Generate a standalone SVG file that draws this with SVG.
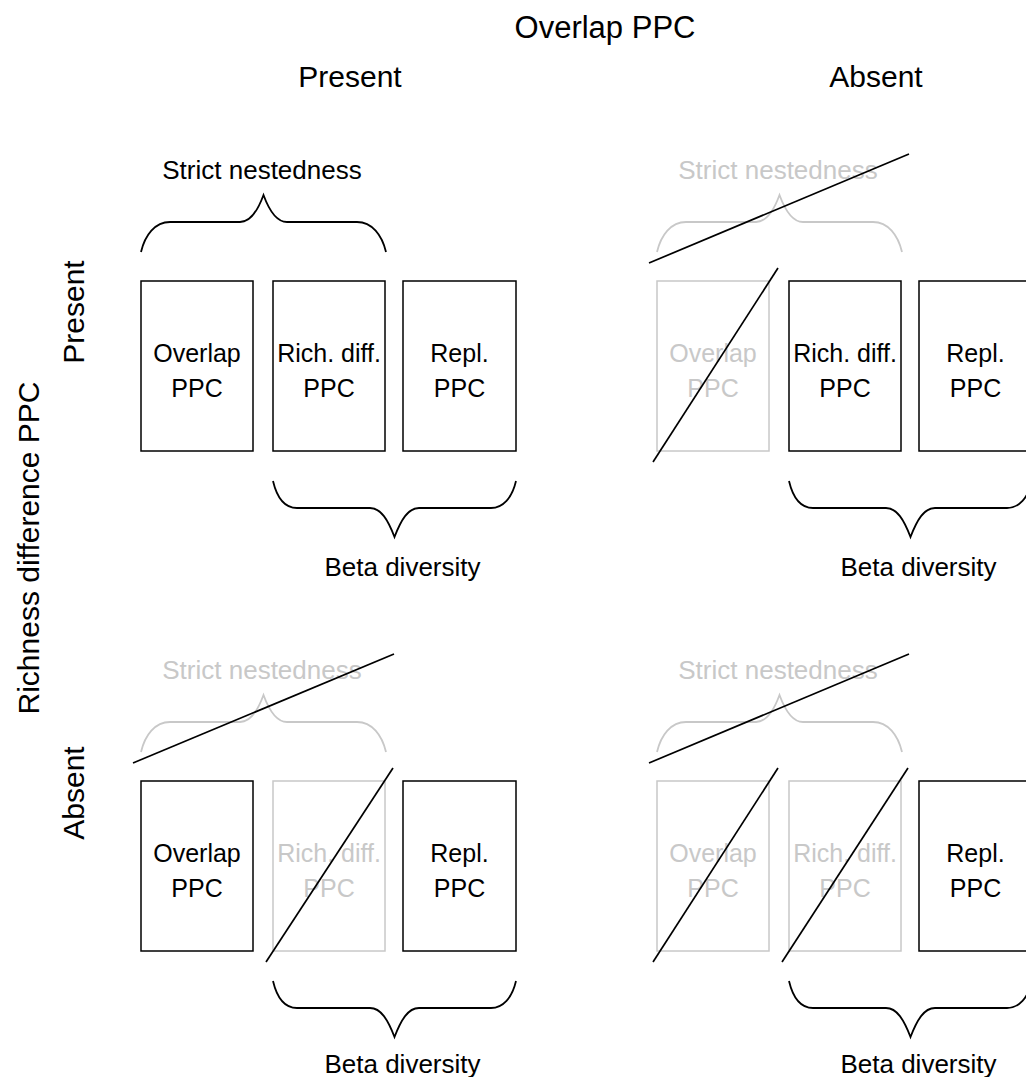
<svg xmlns="http://www.w3.org/2000/svg" width="1026" height="1077" viewBox="0 0 1026 1077">
  <style>
    text { font-family: "Liberation Sans", Arial, sans-serif; fill: #000; }
    .head { font-size: 30px; text-anchor: middle; }
    .title { font-size: 31px; text-anchor: middle; }
    .lbl { font-size: 25px; text-anchor: middle; }
    .brlbl { font-size: 26px; text-anchor: middle; }
    .box { fill: #fff; stroke: #000; stroke-width: 1.5; }
    .brace { fill: none; stroke: #000; stroke-width: 1.8; }
    .off .box, .off .brace { stroke: #c8c8c8; }
    .off text { fill: #c8c8c8; }
    .strike { stroke: #000; stroke-width: 1.7; fill: none; }
  </style>
  <defs>
    <!-- brace spanning the first two boxes, tip pointing up -->
    <path id="brace-up" d="M141,252 C145,235 155,222 170,222 L240,222 C251,222 258,210 263.5,195 C269,210 276,222 287,222 L357,222 C372,222 382,235 386,252"/>
    <!-- brace spanning the last two boxes, tip pointing down -->
    <path id="brace-down" d="M273,481 C277,498 285,508 297,508 L370,508 C381,508 388,520 394.5,537 C401,520 408,508 419,508 L491,508 C503,508 512,498 516,481"/>
  </defs>

  <rect width="1026" height="1077" fill="#fff"/>

  <!-- axis headings -->
  <g id="headings">
    <text class="title" x="605" y="38">Overlap PPC</text>
    <text class="head" x="350" y="87">Present</text>
    <text class="head" x="876" y="87">Absent</text>
    <text class="head" transform="translate(39,548) rotate(-90)">Richness difference PPC</text>
    <text class="head" transform="translate(84,312) rotate(-90)">Present</text>
    <text class="head" transform="translate(84,793) rotate(-90)">Absent</text>
  </g>

  <!-- quadrant: overlap present, richness difference present -->
  <g id="q-present-present">
    <g id="nest-pp"><use href="#brace-up" class="brace"/><text class="brlbl" x="262" y="179">Strict nestedness</text></g>
    <g id="overlap-pp"><rect class="box" x="141" y="281" width="112" height="170"/><text class="lbl" x="197" y="362">Overlap</text><text class="lbl" x="197" y="397">PPC</text></g>
    <g id="richdiff-pp"><rect class="box" x="273" y="281" width="112" height="170"/><text class="lbl" x="329" y="362">Rich. diff.</text><text class="lbl" x="329" y="397">PPC</text></g>
    <g id="repl-pp"><rect class="box" x="403" y="281" width="113" height="170"/><text class="lbl" x="459.5" y="362">Repl.</text><text class="lbl" x="459.5" y="397">PPC</text></g>
    <g id="beta-pp"><use href="#brace-down" class="brace"/><text class="brlbl" x="402.5" y="576">Beta diversity</text></g>
  </g>

  <!-- quadrant: overlap absent, richness difference present -->
  <g id="q-absent-present" transform="translate(516,0)">
    <g id="nest-ap" class="off"><use href="#brace-up" class="brace"/><text class="brlbl" x="262" y="179">Strict nestedness</text></g>
    <g id="overlap-ap" class="off"><rect class="box" x="141" y="281" width="112" height="170"/><text class="lbl" x="197" y="362">Overlap</text><text class="lbl" x="197" y="397">PPC</text></g>
    <g id="richdiff-ap"><rect class="box" x="273" y="281" width="112" height="170"/><text class="lbl" x="329" y="362">Rich. diff.</text><text class="lbl" x="329" y="397">PPC</text></g>
    <g id="repl-ap"><rect class="box" x="403" y="281" width="113" height="170"/><text class="lbl" x="459.5" y="362">Repl.</text><text class="lbl" x="459.5" y="397">PPC</text></g>
    <g id="beta-ap"><use href="#brace-down" class="brace"/><text class="brlbl" x="402.5" y="576">Beta diversity</text></g>
  </g>

  <!-- quadrant: overlap present, richness difference absent -->
  <g id="q-present-absent" transform="translate(0,500)">
    <g id="nest-pa" class="off"><use href="#brace-up" class="brace"/><text class="brlbl" x="262" y="179">Strict nestedness</text></g>
    <g id="overlap-pa"><rect class="box" x="141" y="281" width="112" height="170"/><text class="lbl" x="197" y="362">Overlap</text><text class="lbl" x="197" y="397">PPC</text></g>
    <g id="richdiff-pa" class="off"><rect class="box" x="273" y="281" width="112" height="170"/><text class="lbl" x="329" y="362">Rich. diff.</text><text class="lbl" x="329" y="397">PPC</text></g>
    <g id="repl-pa"><rect class="box" x="403" y="281" width="113" height="170"/><text class="lbl" x="459.5" y="362">Repl.</text><text class="lbl" x="459.5" y="397">PPC</text></g>
    <g id="beta-pa"><use href="#brace-down" class="brace"/><text class="brlbl" x="402.5" y="573">Beta diversity</text></g>
  </g>

  <!-- quadrant: overlap absent, richness difference absent -->
  <g id="q-absent-absent" transform="translate(516,500)">
    <g id="nest-aa" class="off"><use href="#brace-up" class="brace"/><text class="brlbl" x="262" y="179">Strict nestedness</text></g>
    <g id="overlap-aa" class="off"><rect class="box" x="141" y="281" width="112" height="170"/><text class="lbl" x="197" y="362">Overlap</text><text class="lbl" x="197" y="397">PPC</text></g>
    <g id="richdiff-aa" class="off"><rect class="box" x="273" y="281" width="112" height="170"/><text class="lbl" x="329" y="362">Rich. diff.</text><text class="lbl" x="329" y="397">PPC</text></g>
    <g id="repl-aa"><rect class="box" x="403" y="281" width="113" height="170"/><text class="lbl" x="459.5" y="362">Repl.</text><text class="lbl" x="459.5" y="397">PPC</text></g>
    <g id="beta-aa"><use href="#brace-down" class="brace"/><text class="brlbl" x="402.5" y="573">Beta diversity</text></g>
  </g>

  <!-- strike-through lines over the absent components -->
  <g id="strikes" class="strike">
    <!-- overlap absent / richness present -->
    <line x1="649" y1="263" x2="909" y2="154"/>
    <line x1="653" y1="462" x2="778" y2="268"/>
    <!-- overlap present / richness absent -->
    <line x1="133" y1="763" x2="394" y2="654"/>
    <line x1="266" y1="962" x2="393" y2="768"/>
    <!-- both absent -->
    <line x1="649" y1="763" x2="909" y2="654"/>
    <line x1="653" y1="962" x2="778" y2="768"/>
    <line x1="782" y1="962" x2="908" y2="768"/>
  </g>
</svg>
